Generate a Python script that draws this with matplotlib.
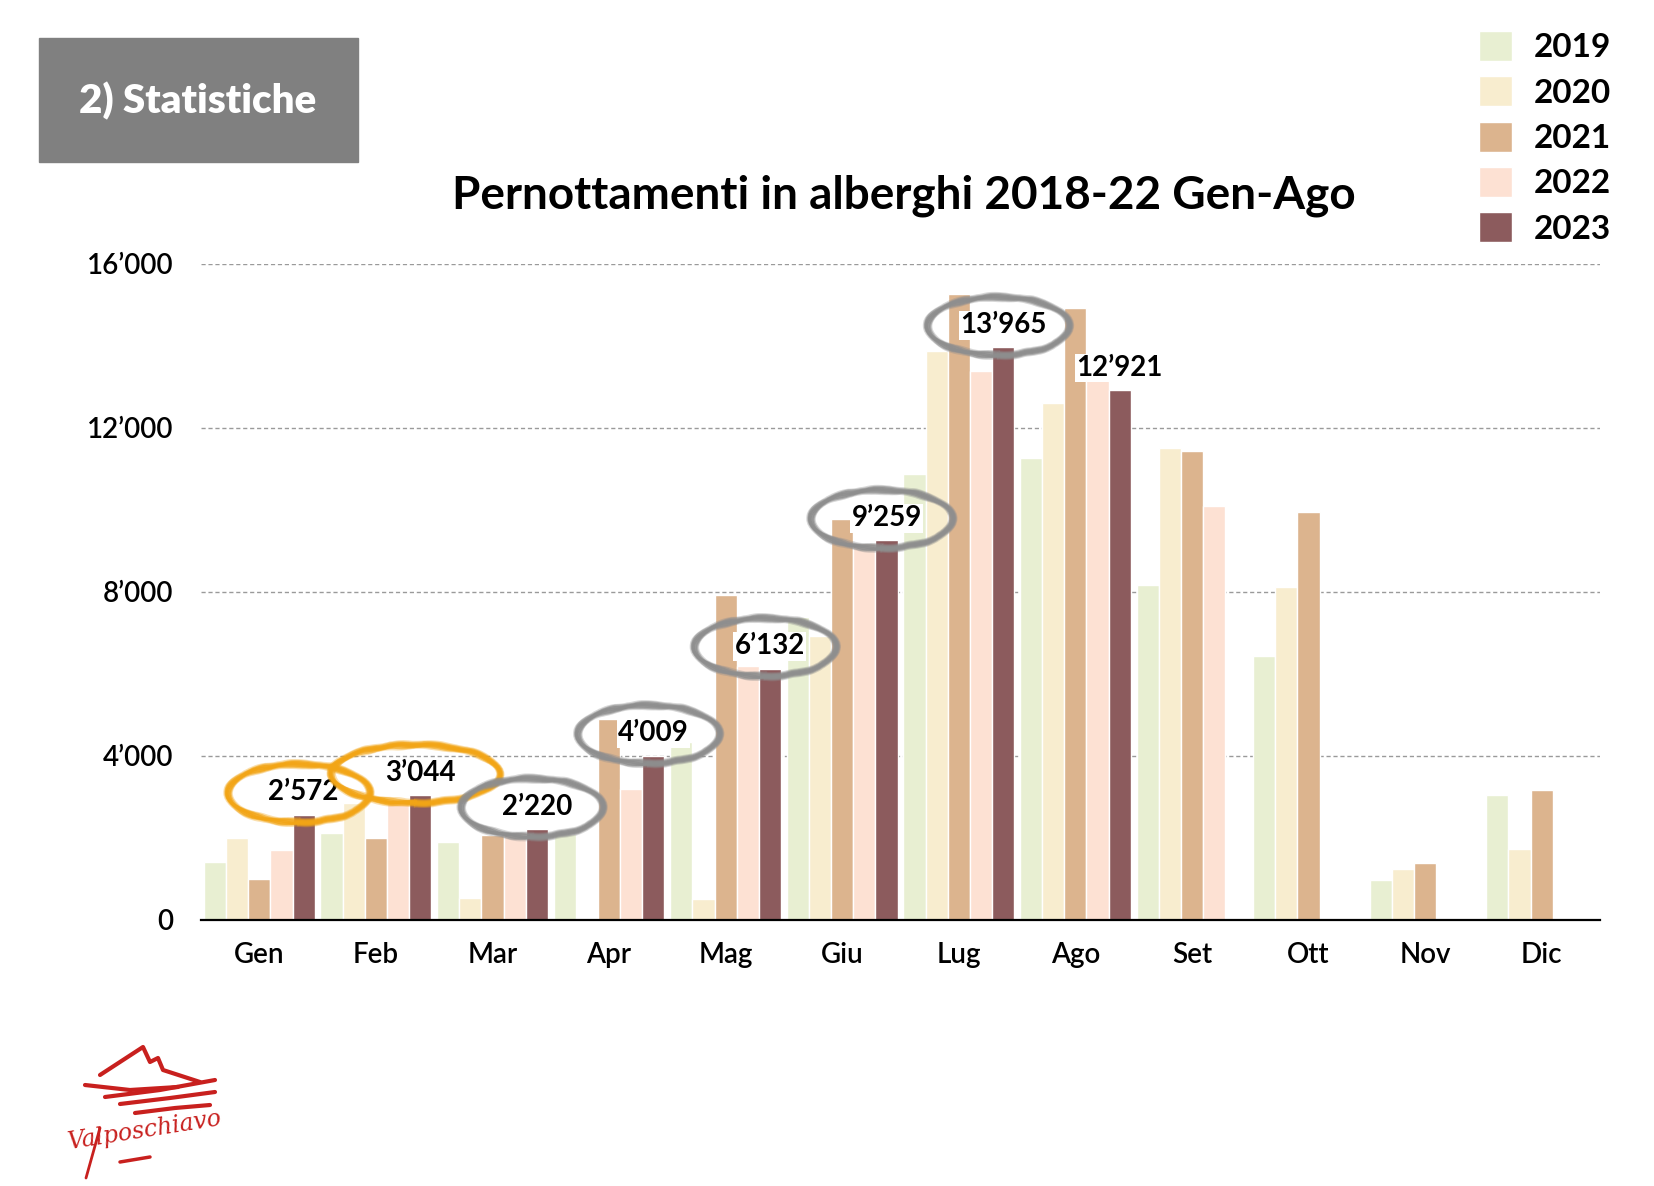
import matplotlib
matplotlib.use('agg')
import matplotlib.pyplot as plt
from matplotlib.patches import Ellipse, Rectangle
from matplotlib.ticker import FuncFormatter

# ---- data ----
months = ['Gen', 'Feb', 'Mar', 'Apr', 'Mag', 'Giu', 'Lug', 'Ago', 'Set', 'Ott', 'Nov', 'Dic']
years = ['2019', '2020', '2021', '2022', '2023']
v2019 = [1420, 2130, 1900, 2100, 4350, 7400, 10870, 11260, 8180, 6450, 970, 3060]
v2020 = [2000, 2850, 540, 50, 520, 6920, 13890, 12600, 11510, 8130, 1250, 1740]
v2021 = [1000, 2000, 2080, 4900, 7930, 9770, 15280, 14920, 11450, 9960, 1390, 3160]
v2022 = [1710, 2900, 2150, 3200, 6200, 9200, 13380, 13360, 10100, None, None, None]
v2023 = [2572, 3044, 2220, 4009, 6132, 9259, 13965, 12921, None, None, None, None]
series = [v2019, v2020, v2021, v2022, v2023]
# ring colour around each 2023 label (None = no ring)
rings = ['#F2A516', '#F2A516', '#8E8E8E', '#8E8E8E', '#8E8E8E', '#8E8E8E', '#8E8E8E', None]

colors = ['#E8EFD2', '#F8EDCF', '#DCB48E', '#FDE1D3', '#8C5B5D']
FONT = 'Lato'

def fmt(v, pos=None):
    return f"{int(v):,}".replace(",", "\u2019")

fig = plt.figure(figsize=(16.54, 11.86), dpi=100)

# overlay in pixel coords for the decorations
deco = fig.add_axes([0, 0, 1, 1])
deco.set_xlim(0, 1654)
deco.set_ylim(1186, 0)
deco.axis('off')

deco.add_patch(Rectangle((39, 38), 319, 124, color='#808080'))
deco.text(198, 101, '2) Statistiche', color='white', fontsize=29, fontweight='heavy',
          family=FONT, ha='center', va='center')
deco.text(904, 196, 'Pernottamenti in alberghi 2018-22 Gen-Ago', fontsize=33,
          fontweight='bold', family=FONT, ha='center', va='center')

# logo (rough sketch)
red = '#C8201E'
deco.plot([100, 143, 150, 158, 163, 200], [1075, 1047, 1062, 1058, 1070, 1082], color=red, lw=3,
          solid_capstyle='round')
for xs, ys in [([85, 130, 178], [1085, 1090, 1087]), ([105, 160, 215], [1097, 1090, 1080]),
               ([120, 170, 215], [1104, 1098, 1092]), ([135, 175, 210], [1113, 1108, 1105])]:
    deco.plot(xs, ys, color=red, lw=3, solid_capstyle='round')
deco.text(145, 1130, 'Valposchiavo', color=red, fontsize=17, style='italic',
          family='DejaVu Serif', rotation=9, ha='center', va='center')
deco.plot([120, 150], [1162, 1157], color=red, lw=2.5, solid_capstyle='round')
deco.plot([100, 86], [1128, 1178], color=red, lw=2, solid_capstyle='round')

# ---- main chart ----
ax = fig.add_axes([201 / 1654, 1 - 920 / 1186, (1600 - 201) / 1654, (920 - 264) / 1186])
ax.set_xlim(-0.5, 11.5)
ax.set_ylim(0, 16000)

w = 0.19
handles = []
for k, (vals, c, yr) in enumerate(zip(series, colors, years)):
    xs = [i + (k - 2) * w for i, v in enumerate(vals) if v is not None]
    hs = [v for v in vals if v is not None]
    b = ax.bar(xs, hs, width=w, color=c, edgecolor='white', linewidth=1, zorder=2, label=yr)
    handles.append(b)

# 2023 labels with hand drawn (brush-like) rings
strokes = [(-0.05, -150, 0.35), (-0.035, -100, 0.6), (-0.02, -50, 0.8), (0.0, 0, 0.9),
           (0.015, 50, 0.8), (0.03, 100, 0.6), (0.045, 150, 0.35)]
for i, v in enumerate(v2023):
    if v is None:
        continue
    x = i + 2 * w
    y = v + 540
    ax.text(x, y, fmt(v), fontsize=20, fontweight='bold', family=FONT, ha='center', va='center',
            zorder=4, bbox=dict(boxstyle='square,pad=0.05', fc='white', ec='none'))
    if i < len(rings) and rings[i]:
        wid = 1.45 if i == 1 else 1.22
        for dw, dh, a in strokes:
            e = Ellipse((x - 0.04, y - 20), wid + dw, 1420 + dh, fill=False, ec=rings[i],
                        lw=2.2, alpha=a, zorder=5, clip_on=False)
            e.set_sketch_params(scale=0.6, length=40, randomness=2)
            ax.add_patch(e)

ax.set_yticks([0, 4000, 8000, 12000, 16000])
ax.yaxis.set_major_formatter(FuncFormatter(fmt))
ax.set_xticks(range(12))
ax.set_xticklabels(months)
ax.tick_params(length=0, labelsize=20)
ax.tick_params(axis='y', pad=20)
ax.tick_params(axis='x', pad=16)
for lab in ax.get_xticklabels() + ax.get_yticklabels():
    lab.set_family(FONT)
    lab.set_fontweight('semibold')

ax.grid(axis='y', color='#9A9A9A', linestyle=(0, (3, 2)), linewidth=1, zorder=0)
ax.set_axisbelow(True)
for s in ['top', 'right', 'left']:
    ax.spines[s].set_visible(False)
ax.spines['bottom'].set_linewidth(1.6)
ax.spines['bottom'].set_zorder(6)

fig.legend(handles=handles, loc='upper left', bbox_to_anchor=(1479 / 1654, 1 - 31 / 1186),
           frameon=False, prop={'family': FONT, 'size': 24, 'weight': 'bold'},
           handlelength=1.0, handleheight=1.0, labelspacing=0.42, handletextpad=0.65,
           borderpad=0, borderaxespad=0)

fig.savefig('out.png', dpi=100, facecolor='white')
